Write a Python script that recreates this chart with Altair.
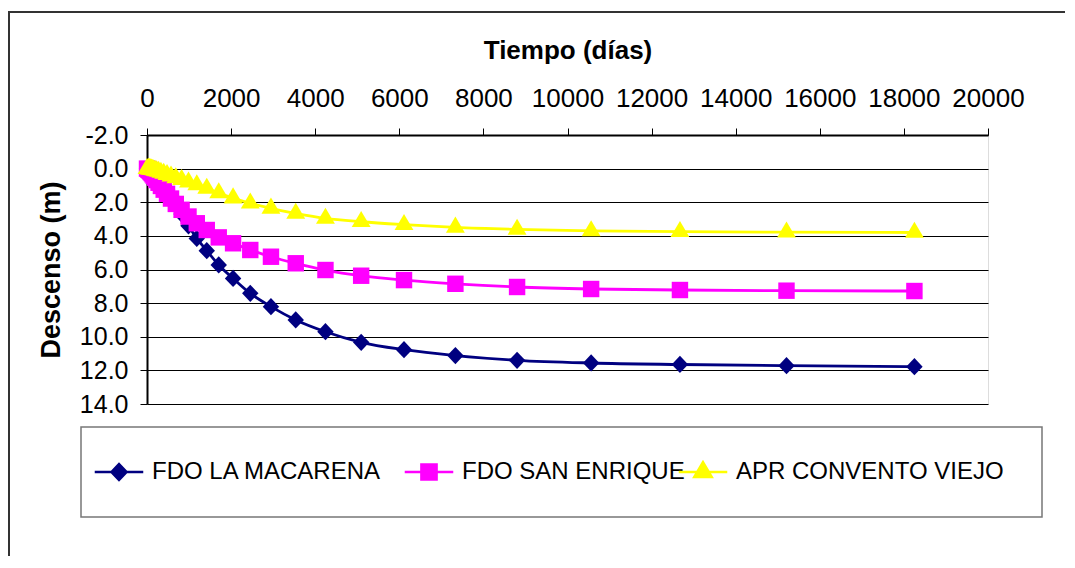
import altair as alt
import pandas as pd

# ---------------- data ----------------
series_names = ["FDO LA MACARENA", "FDO SAN ENRIQUE", "APR CONVENTO VIEJO"]
series_colors = ["#000080", "#FF00FF", "#FFFF00"]

tiempo = [0, 31, 37, 44, 53, 64, 77, 92, 111, 133, 159, 191, 229, 275, 331,
          397, 476, 571, 685, 823, 987, 1184, 1421, 1706, 2047, 2456, 2948,
          3537, 4244, 5093, 6112, 7334, 8801, 10562, 12674, 15208, 18250]

macarena = [0.0, 0.0, 0.0, 0.01, 0.02, 0.03, 0.05, 0.08, 0.12, 0.18, 0.26,
            0.37, 0.50, 0.66, 0.84, 1.02, 1.25, 1.62, 2.10, 2.70, 3.40, 4.15,
            4.88, 5.73, 6.53, 7.42, 8.21, 9.00, 9.70, 10.33, 10.77, 11.12,
            11.40, 11.56, 11.65, 11.72, 11.78]

san_enrique = [0.0, 0.03, 0.04, 0.06, 0.08, 0.11, 0.15, 0.20, 0.26, 0.34,
               0.43, 0.54, 0.68, 0.84, 1.03, 1.25, 1.50, 1.78, 2.10, 2.45,
               2.85, 3.25, 3.65, 4.09, 4.44, 4.84, 5.24, 5.63, 6.03, 6.37,
               6.63, 6.85, 7.04, 7.16, 7.22, 7.26, 7.28]

convento = [0.0, 0.005, 0.007, 0.01, 0.013, 0.017, 0.022, 0.03, 0.04, 0.06,
            0.08, 0.10, 0.13, 0.17, 0.22, 0.28, 0.36, 0.45, 0.55, 0.66, 0.80,
            0.97, 1.18, 1.45, 1.75, 2.06, 2.36, 2.66, 2.96, 3.16, 3.33, 3.49,
            3.61, 3.70, 3.75, 3.78, 3.80]

x_ticks = [0, 2000, 4000, 6000, 8000, 10000, 12000, 14000, 16000, 18000, 20000]
y_ticks = [-2, 0, 2, 4, 6, 8, 10, 12, 14]

# marker shapes (unit paths) and legend symbols (line + marker)
marker_paths = ["M-1,0L0,-1.05L1,0L0,1.05Z",
                "M-1,-1H1V1H-1Z",
                "M0,-1.3L-1.15,0.65L1.15,0.65Z"]
legend_paths = ["M-3.2,0H3.2" + p for p in marker_paths]
legend_x = [-40, 270, 544]   # legend entry positions (px, relative to plot)

FONT = "Arial, Liberation Sans, sans-serif"
MSIZE = 270

x = alt.X("t:Q",
          scale=alt.Scale(domain=[0, 20000], nice=False, zero=False),
          axis=alt.Axis(orient="top", values=x_ticks, format="d",
                        title="Tiempo (días)", titleFont=FONT, titleFontSize=26,
                        titleFontWeight="bold", titleColor="black", titlePadding=22,
                        labelFont=FONT, labelFontSize=26, labelColor="black",
                        labelPadding=17, labelFlush=False, labelOverlap=False,
                        tickSize=7, tickColor="black", tickWidth=1,
                        domainColor="black", domainWidth=2, grid=False))

y = alt.Y("d:Q",
          scale=alt.Scale(domain=[-2, 14], reverse=True, nice=False, zero=False),
          axis=alt.Axis(values=y_ticks,
                        labelExpr="(datum.value < 0 ? '-' : '') + format(abs(datum.value), '.1f')",
                        title="Descenso (m)", titleFont=FONT, titleFontSize=27,
                        titleFontWeight="bold", titleColor="black", titlePadding=14,
                        labelFont=FONT, labelFontSize=25, labelColor="black",
                        labelPadding=12, tickSize=7, tickColor="black", tickWidth=1,
                        domainColor="black", domainWidth=2,
                        grid=True, gridColor="black", gridWidth=1))

series_layers = []
for i, (name, col, vals) in enumerate(zip(series_names, series_colors,
                                          [macarena, san_enrique, convento])):
    d = pd.DataFrame({"serie": [name] * len(tiempo), "t": tiempo, "d": vals})
    leg = alt.Legend(orient="none", legendX=legend_x[i], legendY=325,
                     title=None, labelFont=FONT, labelFontSize=24, labelColor="black",
                     labelLimit=500, symbolType=legend_paths[i], symbolSize=230,
                     symbolStrokeColor=col, symbolFillColor=col, symbolStrokeWidth=2.5,
                     symbolOpacity=1, labelOffset=21, padding=0)
    color = alt.Color("serie:N", scale=alt.Scale(domain=[name], range=[col]), legend=leg)
    base = alt.Chart(d)
    line = base.mark_line(strokeWidth=2.8, interpolate="monotone").encode(
        x=x, y=y, color=color, order="t:Q")
    pts = base.mark_point(filled=True, size=MSIZE, opacity=1, strokeWidth=0,
                          shape=marker_paths[i]).encode(x=x, y=y, color=color)
    series_layers.append(alt.layer(line, pts))

one = pd.DataFrame({"k": [0]})
frame = alt.Chart(one).mark_rect(fill="transparent", stroke="#333333", strokeWidth=2).encode(
    x=alt.value(-138), x2=alt.value(1200), y=alt.value(-123), y2=alt.value(1200))
legend_box = alt.Chart(one).mark_rect(fill="transparent", stroke="#777777", strokeWidth=1.5).encode(
    x=alt.value(-66), x2=alt.value(895), y=alt.value(292), y2=alt.value(382))

chart = alt.layer(frame, legend_box, *series_layers).resolve_scale(
    color="independent"
).properties(
    width=841, height=269,
    autosize=alt.AutoSizeParams(type="none"),
    padding={"left": 139, "top": 127, "right": 77, "bottom": 152},
).configure_view(stroke="black", strokeWidth=2).configure(background="white")

chart.save("out.html", embed_options={"renderer": "svg", "actions": False})
